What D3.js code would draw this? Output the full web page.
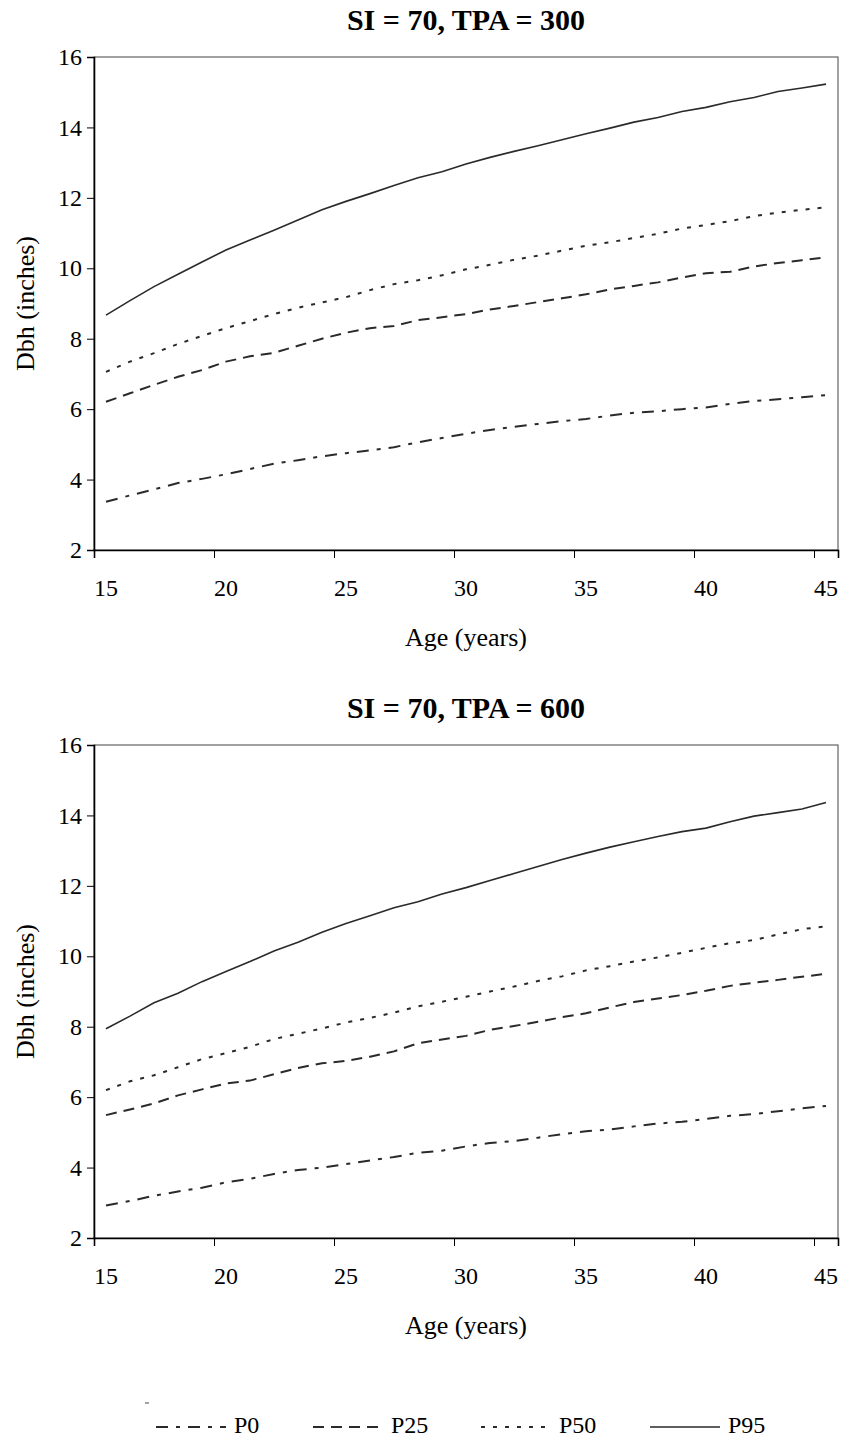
<!DOCTYPE html>
<html>
<head>
<meta charset="utf-8">
<script src="https://cdn.jsdelivr.net/npm/d3@7"></script>
<style>
  html, body { margin: 0; padding: 0; background: #fff; }
  svg { display: block; font-family: "Liberation Serif", "Times New Roman", serif; }
</style>
</head>
<body>
<svg id="chart" width="841" height="1439"></svg>
<script>
// ---- Data ----
const ages = [15,16,17,18,19,20,21,22,23,24,25,26,27,28,29,30,31,32,33,34,35,36,37,38,39,40,41,42,43,44,45];

// SI = 70, TPA = 300
const p0_300  = [3.37,3.55,3.72,3.90,4.02,4.15,4.30,4.45,4.55,4.66,4.75,4.83,4.92,5.06,5.18,5.30,5.41,5.50,5.58,5.66,5.72,5.82,5.90,5.94,6.00,6.05,6.15,6.23,6.28,6.34,6.40];
const p25_300 = [6.21,6.45,6.69,6.92,7.11,7.35,7.50,7.60,7.80,8.00,8.17,8.30,8.36,8.53,8.61,8.70,8.83,8.93,9.04,9.15,9.26,9.40,9.50,9.60,9.74,9.86,9.90,10.05,10.15,10.23,10.31];
const p50_300 = [7.06,7.35,7.59,7.85,8.08,8.30,8.50,8.70,8.88,9.03,9.18,9.38,9.55,9.66,9.80,9.97,10.10,10.24,10.36,10.50,10.64,10.74,10.86,10.98,11.13,11.23,11.34,11.48,11.58,11.66,11.73];
const p95_300 = [8.67,9.08,9.48,9.83,10.18,10.52,10.80,11.08,11.37,11.66,11.90,12.12,12.35,12.57,12.74,12.96,13.15,13.32,13.48,13.65,13.82,13.98,14.15,14.28,14.45,14.57,14.73,14.85,15.02,15.12,15.23];

// SI = 70, TPA = 600
const p0_600  = [2.92,3.05,3.20,3.32,3.43,3.58,3.68,3.82,3.93,4.00,4.10,4.20,4.30,4.42,4.48,4.60,4.70,4.75,4.85,4.95,5.03,5.08,5.17,5.25,5.30,5.38,5.47,5.52,5.60,5.68,5.75];
const p25_600 = [5.49,5.65,5.82,6.05,6.22,6.39,6.47,6.65,6.83,6.96,7.03,7.15,7.30,7.53,7.64,7.74,7.91,8.02,8.14,8.27,8.38,8.55,8.70,8.80,8.90,9.02,9.16,9.25,9.33,9.42,9.50];
const p50_600 = [6.20,6.45,6.62,6.85,7.08,7.25,7.43,7.65,7.80,7.95,8.12,8.25,8.40,8.58,8.71,8.85,9.00,9.14,9.30,9.43,9.60,9.72,9.85,9.97,10.10,10.24,10.37,10.46,10.62,10.77,10.85];
const p95_600 = [7.94,8.30,8.68,8.95,9.28,9.57,9.85,10.15,10.40,10.68,10.93,11.15,11.38,11.55,11.77,11.95,12.15,12.35,12.55,12.75,12.93,13.10,13.25,13.40,13.54,13.64,13.82,13.98,14.08,14.18,14.37];

const seriesNames = ["P0", "P25", "P50", "P95"];
const panelTitles = ["SI = 70, TPA = 300", "SI = 70, TPA = 600"];
const panelSeries = [[p0_300, p25_300, p50_300, p95_300], [p0_600, p25_600, p50_600, p95_600]];
const yTicks = [2,4,6,8,10,12,14,16];
const xTickLabels = [15,20,25,30,35,40,45];
const xAxisTitle = "Age (years)";
const yAxisTitle = "Dbh (inches)";

// ---- Styles ----
const dashStyles = ["12,8,4,8", "11,7", "4,8", null];
const strokeWidths = [2, 2, 2, 1.6];

// ---- Layout ----
const svg = d3.select("#chart");
const left = 94, right = 838, top0 = 57, bottom0 = 550, panelOffset = 688;

const x = d3.scaleLinear().domain([14.5, 45.5]).range([left, right]);
const y = d3.scaleLinear().domain([2, 16]).range([bottom0, top0]);

const line = d3.line().x((d, i) => x(ages[i])).y(d => y(d));

panelSeries.forEach((series, p) => {
  const g = svg.append("g").attr("transform", `translate(0,${p * panelOffset})`);

  // Title
  g.append("text")
    .attr("x", 466).attr("y", 30)
    .attr("text-anchor", "middle")
    .attr("font-size", 30).attr("font-weight", "bold")
    .attr("fill", "#000")
    .text(panelTitles[p]);

  // Plot frame
  g.append("rect")
    .attr("x", left).attr("y", top0)
    .attr("width", right - left).attr("height", bottom0 - top0)
    .attr("fill", "none").attr("stroke", "#444").attr("stroke-width", 1);

  // Y axis
  const yAxis = g.append("g").attr("transform", `translate(${left},0)`)
    .call(d3.axisLeft(y).tickValues(yTicks).tickSize(7).tickPadding(5).tickFormat(d3.format("d")));
  yAxis.select(".domain").attr("stroke", "#000").attr("stroke-width", 1.6);
  yAxis.selectAll(".tick line").attr("stroke", "#000").attr("stroke-width", 1);
  yAxis.selectAll(".tick text").attr("font-size", 24).attr("fill", "#000")
    .attr("font-family", "Liberation Serif, serif");

  // X axis: ticks between categories, labels at category centres
  const xAxis = g.append("g").attr("transform", `translate(0,${bottom0})`)
    .call(d3.axisBottom(x).tickValues(xTickLabels.map(v => v - 0.5)).tickSize(8).tickFormat(""));
  xAxis.select(".domain").attr("stroke", "#000").attr("stroke-width", 1.6);
  xAxis.selectAll(".tick line").attr("stroke", "#000").attr("stroke-width", 1);

  g.selectAll(".xlab").data(xTickLabels).enter().append("text")
    .attr("class", "xlab")
    .attr("x", d => x(d)).attr("y", bottom0 + 46)
    .attr("text-anchor", "middle")
    .attr("font-size", 24).attr("fill", "#000")
    .text(d => d);

  // Axis titles
  g.append("text")
    .attr("x", (left + right) / 2).attr("y", bottom0 + 96)
    .attr("text-anchor", "middle")
    .attr("font-size", 26).attr("fill", "#000")
    .text(xAxisTitle);

  g.append("text")
    .attr("transform", `translate(34,${(top0 + bottom0) / 2}) rotate(-90)`)
    .attr("text-anchor", "middle")
    .attr("font-size", 26).attr("fill", "#000")
    .text(yAxisTitle);

  // Series lines
  series.forEach((vals, s) => {
    g.append("path")
      .datum(vals)
      .attr("d", line)
      .attr("fill", "none")
      .attr("stroke", "#2a2a2a")
      .attr("stroke-width", strokeWidths[s])
      .attr("stroke-dasharray", dashStyles[s]);
  });
});

// ---- Legend ----
const legendY = 1427;
const legendX = [156, 313, 481, 650];
const legendLen = 70;
const lg = svg.append("g");
// small stray mark present in the original legend box
lg.append("line").attr("x1", 145).attr("x2", 149).attr("y1", 1403).attr("y2", 1403)
  .attr("stroke", "#444").attr("stroke-width", 1);

seriesNames.forEach((name, s) => {
  lg.append("line")
    .attr("x1", legendX[s]).attr("x2", legendX[s] + legendLen)
    .attr("y1", legendY).attr("y2", legendY)
    .attr("stroke", "#2a2a2a")
    .attr("stroke-width", strokeWidths[s])
    .attr("stroke-dasharray", dashStyles[s]);
  lg.append("text")
    .attr("x", legendX[s] + legendLen + 8).attr("y", 1433)
    .attr("font-size", 24).attr("fill", "#000")
    .text(name);
});
</script>
</body>
</html>
